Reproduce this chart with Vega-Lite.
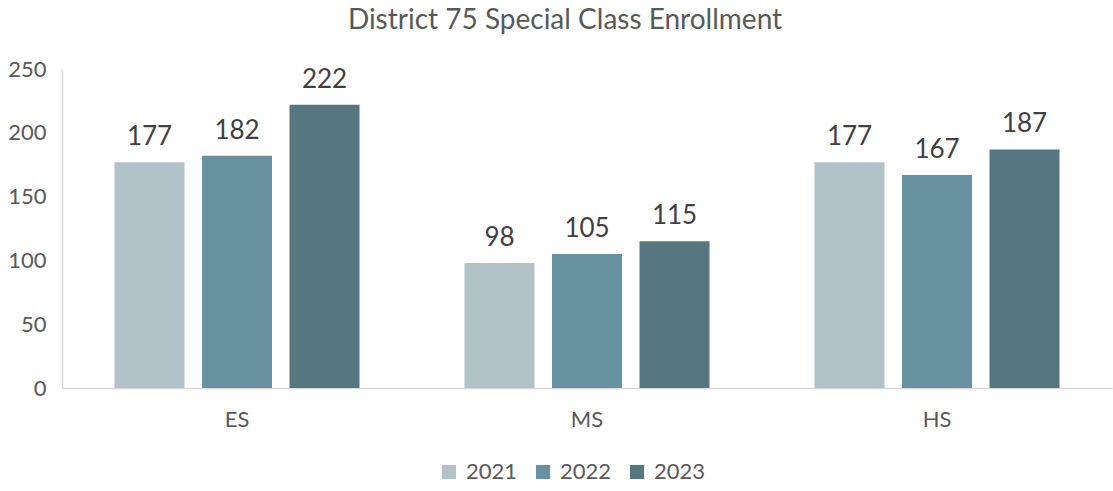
{
  "$schema": "https://vega.github.io/schema/vega-lite/v6.json",
  "width": 1050,
  "height": 319,
  "autosize": "none",
  "padding": {"left": 62, "top": 69, "right": 1, "bottom": 103},
  "background": "white",
  "config": {"view": {"stroke": null}, "font": "Lato"},
  "title": {"text": "District 75 Special Class Enrollment", "fontSize": 28, "font": "Lato", "fontWeight": "normal", "color": "#595959", "anchor": "middle", "offset": 23, "dx": -22},
  "data": {"values": [
    {"level": "ES", "year": "2021", "value": 177},
    {"level": "ES", "year": "2022", "value": 182},
    {"level": "ES", "year": "2023", "value": 222},
    {"level": "MS", "year": "2021", "value": 98},
    {"level": "MS", "year": "2022", "value": 105},
    {"level": "MS", "year": "2023", "value": 115},
    {"level": "HS", "year": "2021", "value": 177},
    {"level": "HS", "year": "2022", "value": 167},
    {"level": "HS", "year": "2023", "value": 187}
  ]},
  "encoding": {
    "x": {"field": "level", "type": "nominal", "sort": ["ES", "MS", "HS"],
      "scale": {"paddingInner": 0.3, "paddingOuter": 0.15},
      "axis": {"title": null, "labelAngle": 0, "labelFontSize": 22, "labelColor": "#595959", "labelFont": "Lato", "ticks": false, "domainColor": "#D9D9D9", "domainWidth": 1.5, "labelPadding": 21}},
    "xOffset": {"field": "year", "type": "nominal", "scale": {"paddingInner": 0.2, "paddingOuter": 0}},
    "y": {"field": "value", "type": "quantitative", "scale": {"domain": [0, 250]},
      "axis": {"title": null, "values": [0, 50, 100, 150, 200, 250], "grid": false, "ticks": false, "labelFontSize": 22, "labelColor": "#595959", "labelFont": "Lato", "domainColor": "#D9D9D9", "domainWidth": 1.5, "labelPadding": 16}}
  },
  "layer": [
    {"mark": {"type": "bar"},
      "encoding": {"color": {"field": "year", "type": "nominal",
        "scale": {"domain": ["2021", "2022", "2023"], "range": ["#B2C2C9", "#68929F", "#56777F"]},
        "legend": {"title": null, "orient": "none", "direction": "horizontal", "legendX": 376, "legendY": 392, "symbolType": "square", "symbolSize": 200, "labelFontSize": 22, "labelColor": "#595959", "labelFont": "Lato", "columnPadding": 14, "labelOffset": 6}}}},
    {"mark": {"type": "text", "baseline": "bottom", "dy": -12, "fontSize": 26, "color": "#404040", "font": "Lato"},
      "encoding": {"text": {"field": "value", "type": "quantitative"}}}
  ]
}
